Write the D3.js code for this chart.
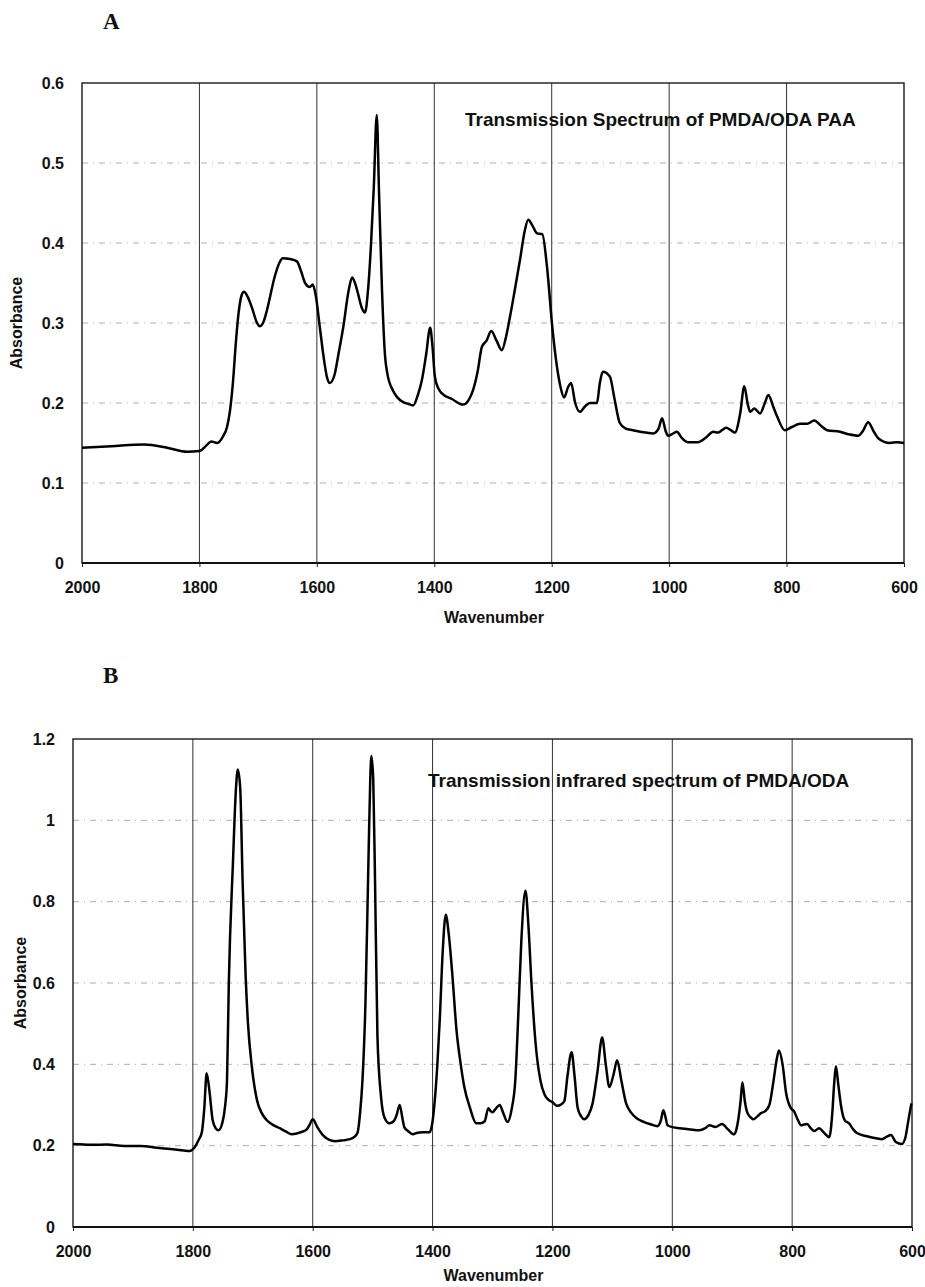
<!DOCTYPE html>
<html>
<head>
<meta charset="utf-8">
<script src="https://cdn.jsdelivr.net/npm/d3@7"></script>
<style>
  html, body { margin: 0; padding: 0; background: #fff; }
  svg text { font-family: "Liberation Sans", Arial, sans-serif; font-weight: bold; fill: #111; }
  .panel-letter { font-family: "Liberation Serif", "Times New Roman", serif; }
</style>
</head>
<body>
<svg id="fig" width="925" height="1287"></svg>
<script>
// Wavenumber axis, shared by both spectra
const xTicks = [2000, 1800, 1600, 1400, 1200, 1000, 800, 600];
const xTickLabels = ["2000", "1800", "1600", "1400", "1200", "1000", "800", "600"];

// Panel A: PMDA/ODA poly(amic acid)
const yTicksA = [0, 0.1, 0.2, 0.3, 0.4, 0.5, 0.6];
const yTickLabelsA = ["0", "0.1", "0.2", "0.3", "0.4", "0.5", "0.6"];
const titleA = "Transmission Spectrum of PMDA/ODA PAA";
const waveA = [2000,1950,1894,1855,1821,1800,1788,1780,1770,1760,1753,1748,1743,1738,1734,1728,1724,1718,1710,1703,1697,1690,1685,1671,1664,1658,1646,1634,1627,1620,1612,1607,1602,1595,1588,1583,1578,1570,1563,1555,1546,1540,1535,1530,1524,1518,1513,1508,1503,1498,1494,1489,1484,1480,1470,1463,1453,1445,1436,1428,1421,1414,1407,1403,1399,1393,1387,1370,1351,1342,1334,1326,1319,1311,1303,1294,1285,1278,1271,1262,1254,1246,1240,1233,1225,1216,1208,1199,1191,1185,1179,1172,1167,1160,1152,1143,1135,1123,1118,1113,1101,1093,1084,1074,1062,1040,1027,1018,1012,1006,1002,993,987,978,968,951,937,925,917,910,903,895,888,879,872,866,862,855,845,838,831,823,816,803,791,777,765,753,742,731,709,695,678,670,661,652,644,624,612,600];
const absA = [0.144,0.146,0.148,0.144,0.139,0.140,0.147,0.152,0.150,0.158,0.170,0.190,0.225,0.275,0.308,0.335,0.339,0.333,0.318,0.302,0.296,0.303,0.316,0.360,0.375,0.381,0.380,0.377,0.365,0.350,0.345,0.348,0.335,0.295,0.255,0.233,0.225,0.235,0.262,0.295,0.340,0.357,0.350,0.337,0.320,0.313,0.340,0.395,0.470,0.560,0.460,0.340,0.260,0.237,0.215,0.207,0.201,0.199,0.197,0.210,0.229,0.260,0.294,0.270,0.233,0.218,0.212,0.205,0.198,0.203,0.216,0.240,0.270,0.278,0.290,0.278,0.266,0.282,0.308,0.345,0.379,0.415,0.429,0.422,0.412,0.411,0.370,0.295,0.245,0.220,0.207,0.220,0.225,0.200,0.189,0.196,0.200,0.200,0.225,0.239,0.233,0.205,0.175,0.168,0.166,0.163,0.162,0.168,0.181,0.165,0.159,0.162,0.164,0.156,0.151,0.151,0.157,0.164,0.163,0.166,0.169,0.166,0.163,0.187,0.221,0.198,0.189,0.193,0.187,0.198,0.210,0.196,0.183,0.166,0.170,0.174,0.174,0.178,0.172,0.166,0.164,0.161,0.159,0.165,0.176,0.165,0.156,0.150,0.151,0.150];

// Panel B: PMDA/ODA polyimide
const yTicksB = [0, 0.2, 0.4, 0.6, 0.8, 1.0, 1.2];
const yTickLabelsB = ["0", "0.2", "0.4", "0.6", "0.8", "1", "1.2"];
const titleB = "Transmission infrared spectrum of PMDA/ODA";
const waveB = [2000,1970,1943,1915,1888,1860,1833,1815,1805,1797,1790,1785,1781,1777,1772,1767,1762,1757,1751,1746,1743,1740,1733,1728,1725,1721,1717,1712,1708,1702,1693,1685,1677,1665,1655,1645,1635,1620,1610,1605,1600,1592,1583,1573,1563,1550,1538,1530,1525,1521,1517,1512,1507,1504,1502,1499,1496,1492,1486,1480,1472,1465,1460,1455,1450,1447,1440,1433,1425,1417,1405,1400,1397,1392,1388,1383,1378,1373,1367,1360,1353,1347,1338,1327,1320,1313,1307,1303,1300,1294,1288,1282,1275,1268,1262,1257,1252,1245,1240,1235,1228,1220,1213,1206,1200,1192,1185,1180,1175,1168,1163,1158,1152,1147,1140,1133,1125,1117,1111,1105,1098,1092,1085,1077,1068,1060,1047,1035,1025,1019,1015,1011,1008,998,988,970,955,945,938,928,917,907,897,893,890,886,883,879,875,868,865,858,852,845,838,832,826,822,816,810,802,797,791,785,780,775,769,763,755,747,738,733,730,727,723,718,712,705,698,692,675,660,650,642,635,627,617,611,608,604,601];
const absB = [0.204,0.202,0.203,0.199,0.199,0.195,0.191,0.188,0.187,0.196,0.215,0.233,0.290,0.378,0.330,0.263,0.243,0.238,0.255,0.300,0.361,0.600,0.900,1.080,1.125,1.080,0.850,0.620,0.500,0.400,0.312,0.280,0.263,0.250,0.243,0.235,0.228,0.233,0.240,0.252,0.265,0.245,0.226,0.215,0.211,0.213,0.216,0.222,0.233,0.280,0.360,0.550,0.900,1.100,1.158,1.100,0.850,0.470,0.320,0.268,0.255,0.260,0.275,0.300,0.265,0.245,0.235,0.228,0.232,0.233,0.233,0.260,0.300,0.400,0.510,0.680,0.768,0.720,0.620,0.483,0.400,0.344,0.295,0.255,0.255,0.260,0.292,0.285,0.282,0.292,0.300,0.280,0.258,0.290,0.360,0.520,0.700,0.827,0.740,0.600,0.450,0.360,0.325,0.312,0.307,0.298,0.302,0.310,0.370,0.430,0.370,0.294,0.272,0.265,0.275,0.304,0.380,0.466,0.400,0.344,0.375,0.410,0.360,0.304,0.280,0.268,0.258,0.252,0.248,0.262,0.287,0.268,0.250,0.245,0.243,0.240,0.238,0.243,0.250,0.246,0.253,0.240,0.228,0.240,0.263,0.310,0.356,0.310,0.282,0.268,0.265,0.272,0.280,0.285,0.300,0.350,0.410,0.434,0.400,0.329,0.292,0.285,0.265,0.250,0.252,0.253,0.243,0.236,0.243,0.232,0.221,0.280,0.350,0.395,0.350,0.294,0.262,0.255,0.240,0.231,0.223,0.218,0.216,0.222,0.226,0.209,0.204,0.220,0.245,0.280,0.304];

const svg = d3.select("#fig");

function drawPanel(cfg) {
  const { left, right, top, bottom, yMax, yTicks, yLabels, waves, values, title, titleX, titleY,
          letter, letterY, yTitleX, xTitleY } = cfg;

  const x = d3.scaleLinear().domain([2000, 600]).range([left, right]);
  const y = d3.scaleLinear().domain([0, yMax]).range([bottom, top]);
  const g = svg.append("g");

  // faint dashed horizontal gridlines
  g.append("g").selectAll("line")
    .data(yTicks.filter(v => v > 0 && v < yMax))
    .join("line")
      .attr("x1", left).attr("x2", right)
      .attr("y1", d => y(d)).attr("y2", d => y(d))
      .attr("stroke", "#999").attr("stroke-width", 0.8)
      .attr("stroke-dasharray", "6,5,1,5");

  // solid vertical gridlines
  g.append("g").selectAll("line")
    .data(xTicks.filter(v => v < 2000 && v > 600))
    .join("line")
      .attr("x1", d => x(d)).attr("x2", d => x(d))
      .attr("y1", top).attr("y2", bottom)
      .attr("stroke", "#333").attr("stroke-width", 1);

  // x axis
  const xAxis = g.append("g")
    .attr("transform", `translate(0,${bottom})`)
    .call(d3.axisBottom(x).tickValues(xTicks)
      .tickFormat((d, i) => xTickLabels[i]).tickSize(4).tickSizeOuter(0));
  xAxis.select(".domain").remove();
  xAxis.selectAll("line").attr("stroke", "#222");
  xAxis.selectAll("text").attr("y", 30).attr("dy", 0)
    .style("font-size", "16px").style("font-family", "'Liberation Sans', Arial, sans-serif")
    .style("font-weight", "bold").attr("fill", "#111");

  // y axis
  const yAxis = g.append("g")
    .attr("transform", `translate(${left},0)`)
    .call(d3.axisLeft(y).tickValues(yTicks)
      .tickFormat((d, i) => yLabels[i]).tickSize(0).tickPadding(18));
  yAxis.select(".domain").remove();
  yAxis.selectAll("text")
    .style("font-size", "16px").style("font-family", "'Liberation Sans', Arial, sans-serif")
    .style("font-weight", "bold").attr("fill", "#111");

  // plot frame
  g.append("rect")
    .attr("x", left).attr("y", top)
    .attr("width", right - left).attr("height", bottom - top)
    .attr("fill", "none").attr("stroke", "#1a1a1a").attr("stroke-width", 1.4);
  g.append("line")
    .attr("x1", left).attr("x2", right).attr("y1", bottom).attr("y2", bottom)
    .attr("stroke", "#111").attr("stroke-width", 2);

  // spectrum trace
  const pts = waves.map((w, i) => [w, values[i]]);
  g.append("path")
    .datum(pts)
    .attr("fill", "none")
    .attr("stroke", "#000")
    .attr("stroke-width", 2.5)
    .attr("stroke-linejoin", "round")
    .attr("d", d3.line().x(d => x(d[0])).y(d => y(d[1])).curve(d3.curveMonotoneX));

  // in-plot title
  g.append("text")
    .attr("x", titleX).attr("y", titleY)
    .style("font-size", "19px")
    .text(title);

  // axis titles
  g.append("text")
    .attr("x", (left + right) / 2 + 1).attr("y", xTitleY)
    .attr("text-anchor", "middle")
    .style("font-size", "16px")
    .text("Wavenumber");
  g.append("text")
    .attr("transform", `translate(${yTitleX},${(top + bottom) / 2}) rotate(-90)`)
    .attr("text-anchor", "middle")
    .style("font-size", "16px")
    .text("Absorbance");

  // panel letter
  g.append("text")
    .attr("class", "panel-letter")
    .attr("x", 103).attr("y", letterY)
    .style("font-size", "23px")
    .text(letter);
}

drawPanel({
  left: 82, right: 904, top: 83, bottom: 563, yMax: 0.6,
  yTicks: yTicksA, yLabels: yTickLabelsA, waves: waveA, values: absA,
  title: titleA, titleX: 465, titleY: 126, letter: "A", letterY: 29, yTitleX: 22, xTitleY: 623
});

drawPanel({
  left: 73, right: 912, top: 739, bottom: 1227, yMax: 1.2,
  yTicks: yTicksB, yLabels: yTickLabelsB, waves: waveB, values: absB,
  title: titleB, titleX: 428, titleY: 787, letter: "B", letterY: 683, yTitleX: 26, xTitleY: 1281
});
</script>
</body>
</html>
